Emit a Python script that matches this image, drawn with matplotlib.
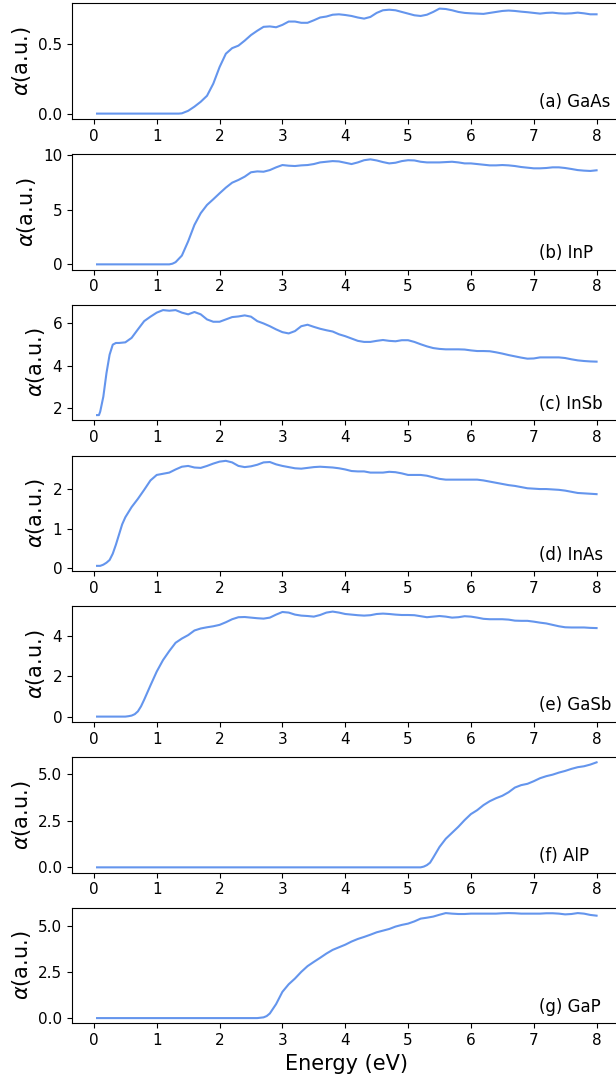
import matplotlib
matplotlib.use("Agg")
import matplotlib.pyplot as plt

# absorption spectra, energy in eV
e_gaas = [0.05, 1.35, 1.4, 1.5, 1.6, 1.7, 1.8, 1.9, 2.0, 2.1, 2.2, 2.3, 2.4, 2.5, 2.6, 2.7, 2.8, 2.9,
          3.0, 3.1, 3.2, 3.3, 3.4, 3.5, 3.6, 3.7, 3.8, 3.9, 4.0, 4.1, 4.2, 4.3, 4.4, 4.5, 4.6, 4.7,
          4.8, 4.9, 5.0, 5.1, 5.2, 5.3, 5.4, 5.5, 5.6, 5.7, 5.8, 5.9, 6.0, 6.1, 6.2, 6.3, 6.4, 6.5,
          6.6, 6.7, 6.8, 6.9, 7.0, 7.1, 7.2, 7.3, 7.4, 7.5, 7.6, 7.7, 7.8, 7.9, 8.0]
a_gaas = [0.0, 0.0, 0.002, 0.02, 0.05, 0.085, 0.128, 0.215, 0.334, 0.43, 0.47, 0.488, 0.524, 0.564,
          0.595, 0.623, 0.626, 0.62, 0.637, 0.661, 0.661, 0.652, 0.652, 0.67, 0.69, 0.697, 0.71,
          0.713, 0.708, 0.701, 0.69, 0.682, 0.694, 0.723, 0.742, 0.746, 0.742, 0.73, 0.718, 0.706,
          0.701, 0.71, 0.73, 0.754, 0.751, 0.742, 0.73, 0.723, 0.72, 0.718, 0.716, 0.723, 0.73,
          0.737, 0.74, 0.737, 0.732, 0.728, 0.723, 0.718, 0.723, 0.725, 0.72, 0.718, 0.72, 0.725,
          0.72, 0.713, 0.713]

e_inp = [0.05, 1.2, 1.25, 1.3, 1.4, 1.5, 1.6, 1.7, 1.8, 1.9, 2.0, 2.1, 2.2, 2.3, 2.4, 2.5, 2.6, 2.7,
         2.8, 2.9, 3.0, 3.1, 3.2, 3.3, 3.4, 3.5, 3.6, 3.7, 3.8, 3.9, 4.0, 4.1, 4.2, 4.3, 4.4, 4.5,
         4.6, 4.7, 4.8, 4.9, 5.0, 5.1, 5.2, 5.3, 5.4, 5.5, 5.6, 5.7, 5.8, 5.9, 6.0, 6.1, 6.2, 6.3,
         6.4, 6.5, 6.6, 6.7, 6.8, 6.9, 7.0, 7.1, 7.2, 7.3, 7.4, 7.5, 7.6, 7.7, 7.8, 7.9, 8.0]
a_inp = [0.0, 0.0, 0.06, 0.2, 0.8, 2.1, 3.6, 4.67, 5.42, 5.94, 6.48, 7.0, 7.45, 7.7, 8.0, 8.4, 8.48,
         8.45, 8.6, 8.85, 9.06, 9.0, 8.97, 9.03, 9.06, 9.15, 9.3, 9.36, 9.42, 9.39, 9.27, 9.15, 9.3,
         9.5, 9.58, 9.48, 9.33, 9.21, 9.27, 9.42, 9.5, 9.48, 9.36, 9.3, 9.3, 9.3, 9.33, 9.36, 9.3,
         9.21, 9.21, 9.15, 9.09, 9.03, 9.03, 9.06, 9.03, 8.97, 8.88, 8.82, 8.76, 8.76, 8.79, 8.85,
         8.85, 8.79, 8.7, 8.6, 8.55, 8.52, 8.58]

e_insb = [0.05, 0.08, 0.1, 0.15, 0.2, 0.25, 0.3, 0.35, 0.4, 0.5, 0.6, 0.7, 0.8, 0.9, 1.0, 1.1, 1.2,
          1.3, 1.4, 1.5, 1.6, 1.7, 1.8, 1.9, 2.0, 2.1, 2.2, 2.3, 2.4, 2.5, 2.6, 2.7, 2.8, 2.9, 3.0,
          3.1, 3.2, 3.3, 3.4, 3.5, 3.6, 3.7, 3.8, 3.9, 4.0, 4.1, 4.2, 4.3, 4.4, 4.5, 4.6, 4.7, 4.8,
          4.9, 5.0, 5.1, 5.2, 5.3, 5.4, 5.5, 5.6, 5.7, 5.8, 5.9, 6.0, 6.1, 6.2, 6.3, 6.4, 6.5, 6.6,
          6.7, 6.8, 6.9, 7.0, 7.1, 7.2, 7.3, 7.4, 7.5, 7.6, 7.7, 7.8, 7.9, 8.0]
a_insb = [1.68, 1.68, 1.84, 2.55, 3.66, 4.53, 5.0, 5.08, 5.08, 5.11, 5.32, 5.72, 6.11, 6.32, 6.51,
          6.63, 6.6, 6.63, 6.51, 6.43, 6.54, 6.43, 6.19, 6.08, 6.08, 6.19, 6.3, 6.33, 6.38, 6.32,
          6.11, 6.0, 5.87, 5.72, 5.59, 5.53, 5.64, 5.87, 5.94, 5.84, 5.75, 5.68, 5.62, 5.49, 5.4,
          5.29, 5.18, 5.13, 5.13, 5.18, 5.22, 5.18, 5.16, 5.21, 5.21, 5.13, 5.02, 4.92, 4.84, 4.8,
          4.78, 4.78, 4.78, 4.77, 4.73, 4.7, 4.7, 4.69, 4.64, 4.58, 4.51, 4.45, 4.39, 4.34, 4.35,
          4.4, 4.4, 4.4, 4.4, 4.37, 4.31, 4.26, 4.23, 4.21, 4.2]

e_inas = [0.05, 0.1, 0.15, 0.2, 0.25, 0.3, 0.35, 0.4, 0.45, 0.5, 0.6, 0.7, 0.8, 0.9, 1.0, 1.1, 1.2,
          1.3, 1.4, 1.5, 1.6, 1.7, 1.8, 1.9, 2.0, 2.1, 2.2, 2.3, 2.4, 2.5, 2.6, 2.7, 2.8, 2.9, 3.0,
          3.1, 3.2, 3.3, 3.4, 3.5, 3.6, 3.7, 3.8, 3.9, 4.0, 4.1, 4.2, 4.3, 4.4, 4.5, 4.6, 4.7, 4.8,
          4.9, 5.0, 5.1, 5.2, 5.3, 5.4, 5.5, 5.6, 5.7, 5.8, 5.9, 6.0, 6.1, 6.2, 6.3, 6.4, 6.5, 6.6,
          6.7, 6.8, 6.9, 7.0, 7.1, 7.2, 7.3, 7.4, 7.5, 7.6, 7.7, 7.8, 7.9, 8.0]
a_inas = [0.05, 0.05, 0.08, 0.13, 0.2, 0.36, 0.59, 0.85, 1.11, 1.29, 1.55, 1.76, 1.99, 2.23, 2.37,
          2.4, 2.43, 2.51, 2.58, 2.6, 2.56, 2.55, 2.6, 2.66, 2.71, 2.73, 2.69, 2.6, 2.57, 2.59, 2.63,
          2.69, 2.7, 2.64, 2.6, 2.57, 2.54, 2.53, 2.55, 2.57, 2.58, 2.57, 2.56, 2.54, 2.51, 2.47,
          2.46, 2.46, 2.43, 2.43, 2.43, 2.45, 2.44, 2.41, 2.37, 2.37, 2.37, 2.35, 2.31, 2.27, 2.25,
          2.25, 2.25, 2.25, 2.25, 2.25, 2.23, 2.2, 2.17, 2.14, 2.11, 2.09, 2.06, 2.03, 2.02, 2.01,
          2.01, 2.0, 1.99, 1.97, 1.94, 1.91, 1.9, 1.89, 1.88]

e_gasb = [0.05, 0.5, 0.55, 0.6, 0.65, 0.7, 0.75, 0.8, 0.9, 1.0, 1.1, 1.2, 1.3, 1.4, 1.5, 1.6, 1.7,
          1.8, 1.9, 2.0, 2.1, 2.2, 2.3, 2.4, 2.5, 2.6, 2.7, 2.8, 2.9, 3.0, 3.1, 3.2, 3.3, 3.4, 3.5,
          3.6, 3.7, 3.8, 3.9, 4.0, 4.1, 4.2, 4.3, 4.4, 4.5, 4.6, 4.7, 4.8, 4.9, 5.0, 5.1, 5.2, 5.3,
          5.4, 5.5, 5.6, 5.7, 5.8, 5.9, 6.0, 6.1, 6.2, 6.3, 6.4, 6.5, 6.6, 6.7, 6.8, 6.9, 7.0, 7.1,
          7.2, 7.3, 7.4, 7.5, 7.6, 7.7, 7.8, 7.9, 8.0]
a_gasb = [0.0, 0.0, 0.02, 0.05, 0.12, 0.26, 0.51, 0.84, 1.55, 2.24, 2.81, 3.26, 3.67, 3.88, 4.05,
          4.28, 4.38, 4.44, 4.49, 4.56, 4.69, 4.84, 4.94, 4.95, 4.92, 4.89, 4.87, 4.92, 5.07, 5.2,
          5.17, 5.07, 5.02, 5.0, 4.97, 5.05, 5.17, 5.22, 5.17, 5.1, 5.07, 5.04, 5.02, 5.04, 5.1,
          5.12, 5.1, 5.07, 5.05, 5.05, 5.04, 4.99, 4.94, 4.97, 5.0, 4.97, 4.92, 4.94, 4.99, 4.97,
          4.92, 4.86, 4.84, 4.84, 4.84, 4.82, 4.77, 4.76, 4.76, 4.72, 4.67, 4.63, 4.56, 4.49, 4.44,
          4.43, 4.43, 4.43, 4.41, 4.4]

e_alp = [0.05, 5.2, 5.25, 5.3, 5.35, 5.4, 5.5, 5.6, 5.7, 5.8, 5.9, 6.0, 6.1, 6.2, 6.3, 6.4, 6.5,
         6.6, 6.7, 6.8, 6.9, 7.0, 7.1, 7.2, 7.3, 7.4, 7.5, 7.6, 7.7, 7.8, 7.9, 8.0]
a_alp = [0.0, 0.0, 0.04, 0.12, 0.25, 0.52, 1.09, 1.53, 1.85, 2.17, 2.53, 2.85, 3.06, 3.33, 3.54,
         3.7, 3.83, 4.02, 4.27, 4.4, 4.47, 4.61, 4.77, 4.88, 4.96, 5.07, 5.16, 5.27, 5.36, 5.41,
         5.5, 5.62]

e_gap = [0.05, 2.6, 2.65, 2.7, 2.75, 2.8, 2.9, 3.0, 3.1, 3.2, 3.3, 3.4, 3.5, 3.6, 3.7, 3.8, 3.9,
         4.0, 4.1, 4.2, 4.3, 4.4, 4.5, 4.6, 4.7, 4.8, 4.9, 5.0, 5.1, 5.2, 5.3, 5.4, 5.5, 5.6, 5.7,
         5.8, 5.9, 6.0, 6.1, 6.2, 6.3, 6.4, 6.5, 6.6, 6.7, 6.8, 6.9, 7.0, 7.1, 7.2, 7.3, 7.4, 7.5,
         7.6, 7.7, 7.8, 7.9, 8.0]
a_gap = [0.0, 0.0, 0.02, 0.04, 0.11, 0.25, 0.76, 1.42, 1.83, 2.14, 2.5, 2.81, 3.04, 3.26, 3.49,
         3.69, 3.83, 3.97, 4.14, 4.28, 4.39, 4.51, 4.64, 4.73, 4.82, 4.95, 5.04, 5.11, 5.23, 5.38,
         5.43, 5.49, 5.59, 5.68, 5.65, 5.63, 5.63, 5.65, 5.65, 5.65, 5.65, 5.65, 5.67, 5.68, 5.67,
         5.65, 5.65, 5.65, 5.65, 5.67, 5.67, 5.65, 5.61, 5.63, 5.68, 5.65, 5.58, 5.54]

labels = ["(a) GaAs", "(b) InP", "(c) InSb", "(d) InAs", "(e) GaSb", "(f) AlP", "(g) GaP"]
energies = [e_gaas, e_inp, e_insb, e_inas, e_gasb, e_alp, e_gap]
alphas = [a_gaas, a_inp, a_insb, a_inas, a_gasb, a_alp, a_gap]
yticks = [[0.0, 0.5], [0, 5, 10], [2, 4, 6], [0, 1, 2], [0, 2, 4], [0.0, 2.5, 5.0], [0.0, 2.5, 5.0]]

fig, axes = plt.subplots(7, 1, figsize=(6.16, 10.78), dpi=100)
fig.subplots_adjust(left=0.117, right=1.009, top=0.9969, bottom=0.0507, hspace=0.305)

for ax, e, a, lab, yt in zip(axes, energies, alphas, labels, yticks):
    ax.plot(e, a, color="cornflowerblue", lw=1.5)
    ax.set_yticks(yt)
    ax.set_xticks(range(0, 9))
    ax.tick_params(labelsize=11)
    ax.set_ylabel(r"$\alpha$(a.u.)", fontsize=15)
    ax.text(0.85, 0.1, lab, transform=ax.transAxes, fontsize=12)

axes[-1].set_xlabel("Energy (eV)", fontsize=15)

plt.savefig("out.png", dpi=100)
